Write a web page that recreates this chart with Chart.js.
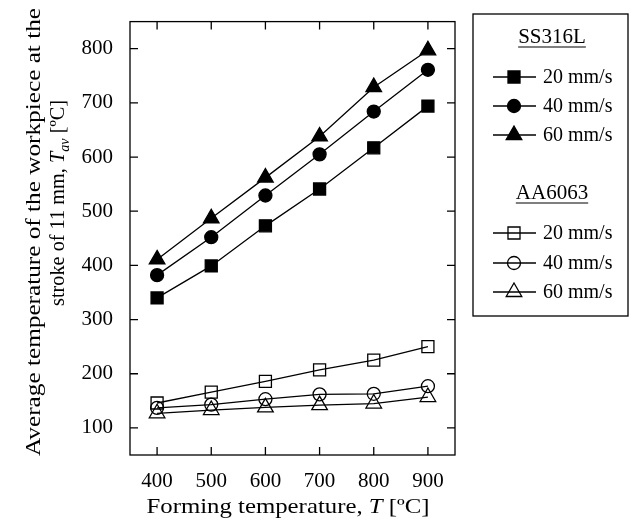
<!DOCTYPE html>
<html>
<head>
<meta charset="utf-8">
<script src="https://cdn.jsdelivr.net/npm/chart.js@4"></script>
<style>
  body { margin: 0; background: #fff; }
  canvas { display: block; }
</style>
</head>
<body>
<canvas id="tempChart" width="631" height="520"></canvas>
<script>
// データ
var formingTemps = [400, 500, 600, 700, 800, 900];
var ss20 = [340, 399, 473, 541, 617, 694];
var ss40 = [382, 452, 529, 605, 684, 761];
var ss60 = [411, 487, 562, 638, 729, 797];
var aa20 = [146, 166, 186, 207, 225, 250];
var aa40 = [137, 143, 153, 162, 163, 177];
var aa60 = [127, 133, 138, 142, 145, 157];
var xTicks = [400, 500, 600, 700, 800, 900];
var yTicks = [100, 200, 300, 400, 500, 600, 700, 800];
var speedLabels = ['20 mm/s', '40 mm/s', '60 mm/s'];
var groupLabels = ['SS316L', 'AA6063'];

var FONT = '"Liberation Serif", "Times New Roman", serif';

function toPoints(values) {
    return formingTemps.map(function (t, i) { return { x: t, y: values[i] }; });
}

function makeSet(label, values, style, radius, filled) {
    return {
        label: label,
        data: toPoints(values),
        borderColor: '#000',
        borderWidth: 1.3,
        pointStyle: style,
        pointRadius: radius,
        pointHoverRadius: radius,
        pointBorderColor: '#000',
        pointBorderWidth: 1.3,
        pointBackgroundColor: filled ? '#000' : 'rgba(0,0,0,0)',
        fill: false,
        tension: 0
    };
}

var datasets = [
    makeSet('SS316L ' + speedLabels[0], ss20, 'rect', 8.5, true),
    makeSet('SS316L ' + speedLabels[1], ss40, 'circle', 6.5, true),
    makeSet('SS316L ' + speedLabels[2], ss60, 'triangle', 9, true),
    makeSet('AA6063 ' + speedLabels[0], aa20, 'rect', 8.5, false),
    makeSet('AA6063 ' + speedLabels[1], aa40, 'circle', 6.5, false),
    makeSet('AA6063 ' + speedLabels[2], aa60, 'triangle', 9, false)
];

// マーカーを描く（凡例用）
function drawMarker(ctx, style, x, y, r, filled) {
    ctx.beginPath();
    if (style === 'rect') {
        var s = r * Math.SQRT1_2;
        ctx.rect(x - s, y - s, 2 * s, 2 * s);
    } else if (style === 'circle') {
        ctx.arc(x, y, r, 0, Math.PI * 2);
    } else {
        ctx.moveTo(x, y - r);
        ctx.lineTo(x + r * Math.sin(Math.PI * 2 / 3), y + r / 2);
        ctx.lineTo(x - r * Math.sin(Math.PI * 2 / 3), y + r / 2);
        ctx.closePath();
    }
    if (filled) { ctx.fillStyle = '#000'; ctx.fill(); }
    ctx.lineWidth = 1.3;
    ctx.strokeStyle = '#000';
    ctx.stroke();
}

// イタリック・下付きを含む文字列を描く（targetで横幅を合わせる）
function richWidth(ctx, parts, size) {
    var w = 0;
    parts.forEach(function (p) {
        var s = p.sub ? size * 0.7 : size;
        ctx.font = (p.italic ? 'italic ' : '') + s + 'px ' + FONT;
        w += ctx.measureText(p.t).width;
    });
    return w;
}
function drawRich(ctx, parts, cx, y, size, target) {
    var w = richWidth(ctx, parts, size);
    var k = target ? target / w : 1;
    ctx.save();
    ctx.translate(cx, y);
    ctx.scale(k, 1);
    var x = -w / 2;
    ctx.textAlign = 'left';
    ctx.textBaseline = 'alphabetic';
    ctx.fillStyle = '#000';
    parts.forEach(function (p) {
        var s = p.sub ? size * 0.7 : size;
        ctx.font = (p.italic ? 'italic ' : '') + s + 'px ' + FONT;
        ctx.fillText(p.t, x, p.sub ? size * 0.22 : 0);
        x += ctx.measureText(p.t).width;
    });
    ctx.restore();
}

var framePlugin = {
    id: 'framePlugin',
    afterDraw: function (chart) {
        var ctx = chart.ctx;
        var a = chart.chartArea;
        var xs = chart.scales.x, ys = chart.scales.y;
        var tick = 8;
        ctx.save();
        ctx.strokeStyle = '#000';
        ctx.lineWidth = 1.3;
        ctx.strokeRect(a.left, a.top, a.right - a.left, a.bottom - a.top);
        ctx.beginPath();
        xTicks.forEach(function (v) {
            var px = xs.getPixelForValue(v);
            ctx.moveTo(px, a.bottom); ctx.lineTo(px, a.bottom - tick);
            ctx.moveTo(px, a.top); ctx.lineTo(px, a.top + tick);
        });
        yTicks.forEach(function (v) {
            var py = ys.getPixelForValue(v);
            ctx.moveTo(a.left, py); ctx.lineTo(a.left + tick, py);
            ctx.moveTo(a.right, py); ctx.lineTo(a.right - tick, py);
        });
        ctx.stroke();

        // 軸タイトル
        drawRich(ctx, [
            { t: 'Forming temperature, ' },
            { t: 'T', italic: true },
            { t: ' [ºC]' }
        ], 288, 513, 22, 283);

        ctx.save();
        ctx.translate(40, 232);
        ctx.rotate(-Math.PI / 2);
        drawRich(ctx, [{ t: 'Average temperature of the workpiece at the' }], 0, 0, 22, 448);
        ctx.restore();
        ctx.save();
        ctx.translate(64, 203);
        ctx.rotate(-Math.PI / 2);
        drawRich(ctx, [
            { t: 'stroke of 11 mm, ' },
            { t: 'T', italic: true },
            { t: 'av', italic: true, sub: true },
            { t: ' [ºC]' }
        ], 0, 0, 22, 206);
        ctx.restore();

        // 凡例
        ctx.lineWidth = 1.3;
        ctx.strokeRect(473, 14, 155, 302);
        var groupY = [37, 193];
        var rowYs = [[77, 106, 135], [233, 263, 292]];
        groupLabels.forEach(function (g, gi) {
            ctx.font = '21px ' + FONT;
            ctx.textAlign = 'center';
            ctx.textBaseline = 'middle';
            ctx.fillStyle = '#000';
            ctx.fillText(g, 552, groupY[gi]);
            var w = ctx.measureText(g).width;
            ctx.beginPath();
            ctx.moveTo(552 - w / 2, groupY[gi] + 10);
            ctx.lineTo(552 + w / 2, groupY[gi] + 10);
            ctx.lineWidth = 1.2;
            ctx.stroke();
            speedLabels.forEach(function (s, si) {
                var ds = chart.data.datasets[gi * 3 + si];
                var y = rowYs[gi][si];
                ctx.beginPath();
                ctx.moveTo(493, y); ctx.lineTo(536, y);
                ctx.lineWidth = 1.3;
                ctx.stroke();
                drawMarker(ctx, ds.pointStyle, 514, y, ds.pointRadius, gi === 0);
                ctx.font = '20px ' + FONT;
                ctx.textAlign = 'left';
                ctx.textBaseline = 'middle';
                ctx.fillStyle = '#000';
                ctx.fillText(s, 543, y + 1);
            });
        });
        ctx.restore();
    }
};

var ctx = document.getElementById('tempChart').getContext('2d');
var tempChart = new Chart(ctx, {
    type: 'line',
    data: { datasets: datasets },
    options: {
        responsive: false,
        animation: false,
        layout: { padding: { left: 0, right: 176, top: 14, bottom: 0 } },
        plugins: {
            legend: { display: false },
            tooltip: { enabled: false }
        },
        scales: {
            x: {
                type: 'linear',
                min: 350,
                max: 950,
                grid: { display: false },
                border: { display: false },
                afterBuildTicks: function (scale) {
                    scale.ticks = xTicks.map(function (v) { return { value: v }; });
                },
                afterFit: function (scale) { scale.height = 65; },
                ticks: {
                    padding: 6,
                    color: '#000',
                    maxRotation: 0,
                    font: { family: FONT, size: 21 }
                }
            },
            y: {
                type: 'linear',
                min: 50,
                max: 850,
                grid: { display: false },
                border: { display: false },
                afterBuildTicks: function (scale) {
                    scale.ticks = yTicks.map(function (v) { return { value: v }; });
                },
                afterFit: function (scale) { scale.width = 130; },
                ticks: {
                    padding: 9,
                    color: '#000',
                    font: { family: FONT, size: 21 }
                }
            }
        }
    },
    plugins: [framePlugin]
});
</script>
</body>
</html>
